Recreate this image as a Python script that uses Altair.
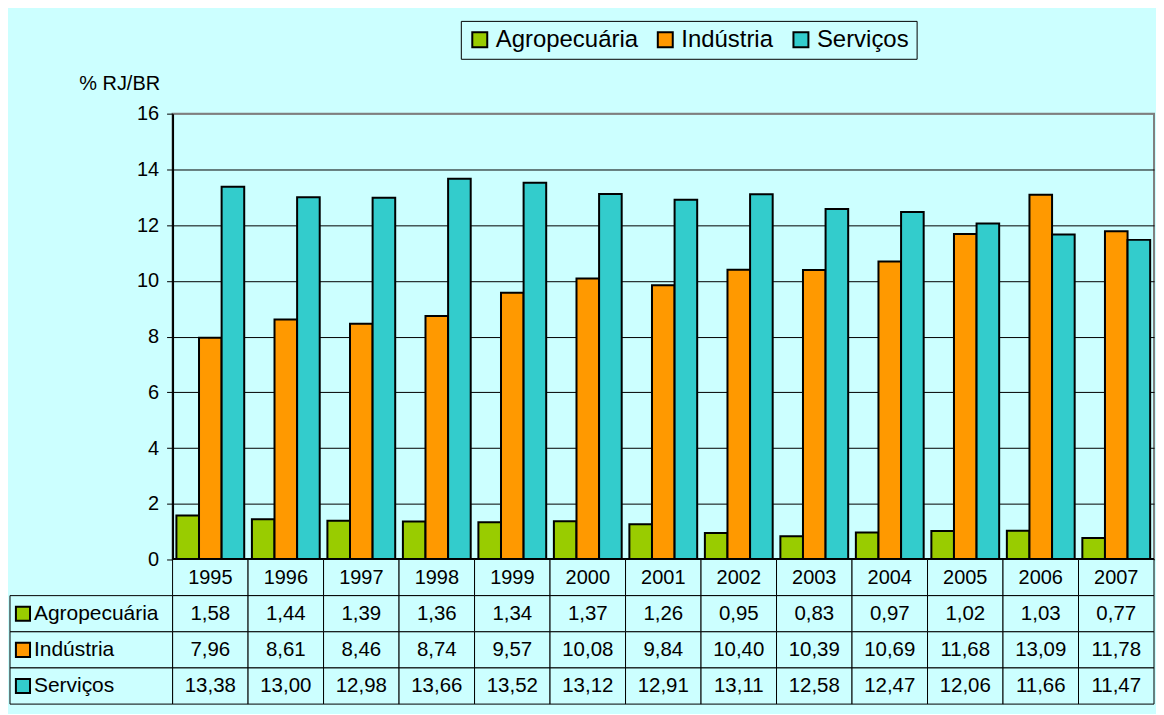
import altair as alt
import pandas as pd

years = ["1995", "1996", "1997", "1998", "1999", "2000", "2001",
         "2002", "2003", "2004", "2005", "2006", "2007"]
agro = [1.58, 1.44, 1.39, 1.36, 1.34, 1.37, 1.26, 0.95, 0.83, 0.97, 1.02, 1.03, 0.77]
ind = [7.96, 8.61, 8.46, 8.74, 9.57, 10.08, 9.84, 10.40, 10.39, 10.69, 11.68, 13.09, 11.78]
serv = [13.38, 13.00, 12.98, 13.66, 13.52, 13.12, 12.91, 13.11, 12.58, 12.47, 12.06, 11.66, 11.47]
series = ["Agropecuária", "Indústria", "Serviços"]
colors = ["#99CC00", "#FF9900", "#33CCCC"]
y_ticks = [0, 2, 4, 6, 8, 10, 12, 14, 16]

BG = "#CCFFFF"
F = "Liberation Sans"
W = 984
H = 447
TABLE_H = 145

rows = []
for s, vals in zip(series, [agro, ind, serv]):
    for yr, v in zip(years, vals):
        rows.append({"ano": yr, "setor": s, "valor": v,
                     "texto": f"{v:.2f}".replace(".", ",")})
df = pd.DataFrame(rows)
hdr = pd.DataFrame({"ano": years, "linha": ["Ano"] * len(years), "texto": years})
lab = pd.DataFrame({"setor": series})

xscale = alt.Scale(domain=years, paddingInner=0, paddingOuter=0)
cscale = alt.Scale(domain=series, range=colors)

bars = alt.Chart(df).mark_bar(stroke="black", strokeWidth=2).encode(
    x=alt.X("ano:N", scale=xscale, axis=None),
    xOffset=alt.XOffset("setor:N", sort=series,
                        scale=alt.Scale(domain=series, paddingInner=0, paddingOuter=0.17)),
    y=alt.Y("valor:Q", scale=alt.Scale(domain=[0, 16], nice=False),
            axis=alt.Axis(values=y_ticks, title="% RJ/BR", titleAngle=0,
                          titleAlign="right", titleBaseline="alphabetic",
                          titleX=-13, titleY=-24, titleFontSize=20,
                          titleFontWeight="normal", titleColor="black", titleFont=F,
                          labelFontSize=20, labelColor="black", labelFont=F,
                          labelPadding=8, tickSize=6, tickColor="black", tickWidth=1,
                          domainColor="black", domainWidth=2,
                          gridColor={"condition": {"test": "datum.value === 16", "value": "#808080"},
                                     "value": "black"},
                          gridWidth=1)),
    color=alt.Color("setor:N", scale=cscale, sort=series,
                    legend=alt.Legend(orient="none", legendX=289, legendY=-93,
                                      direction="horizontal", title=None,
                                      fillColor=BG, strokeColor="black", padding=7,
                                      labelFontSize=24, labelFont=F, labelColor="black",
                                      symbolType="square", symbolSize=225,
                                      symbolStrokeColor="black", symbolStrokeWidth=2,
                                      symbolOpacity=1, columnPadding=15, labelOffset=4,
                                      labelLimit=0)),
)

zero = alt.Chart(df).mark_rule(color="black", strokeWidth=2).encode(y=alt.datum(0))

top = alt.layer(bars, zero).properties(
    width=W, height=H,
    view=alt.ViewBackground(fill=BG, stroke="#808080", strokeWidth=2))

row_domain = ["Ano"] + series
yrow = alt.Scale(domain=row_domain, paddingInner=0, paddingOuter=0)

hdr_base = alt.Chart(hdr).encode(
    x=alt.X("ano:N", scale=xscale, axis=None),
    y=alt.Y("linha:N", scale=yrow, axis=None),
)
hdr_rect = hdr_base.mark_rect(fill=BG, stroke="black", strokeWidth=1)
hdr_text = hdr_base.mark_text(font=F, fontSize=20, color="black").encode(text="texto:N")

cell_base = alt.Chart(df).encode(
    x=alt.X("ano:N", scale=xscale, axis=None),
    y=alt.Y("setor:N", scale=yrow, axis=None),
)
cell_rect = cell_base.mark_rect(fill=BG, stroke="black", strokeWidth=1)
cell_text = cell_base.mark_text(font=F, fontSize=20.5, color="black").encode(text="texto:N")

lab_base = alt.Chart(lab).encode(y=alt.Y("setor:N", scale=yrow, axis=None))
lab_rect = lab_base.mark_rect(fill=BG, stroke="black", strokeWidth=1).encode(
    x=alt.value(-163), x2=alt.value(0))
lab_sq = lab_base.mark_square(size=200, stroke="black", strokeWidth=2, opacity=1).encode(
    x=alt.value(-150),
    color=alt.Color("setor:N", scale=cscale, legend=None))
lab_text = lab_base.mark_text(font=F, fontSize=21, color="black", align="left").encode(
    x=alt.value(-139), text="setor:N")

table = alt.layer(hdr_rect, hdr_text, cell_rect, cell_text, lab_rect, lab_sq, lab_text).properties(
    width=W, height=TABLE_H,
    view=alt.ViewBackground(fill=BG, strokeOpacity=0))

chart = alt.vconcat(top, table, spacing=0, bounds="flush").resolve_scale(color="independent").properties(
    padding={"left": 1, "top": 10, "right": 0, "bottom": 8}
).configure(background=BG)

chart.save("out.html", embed_options={"renderer": "svg", "actions": False})
